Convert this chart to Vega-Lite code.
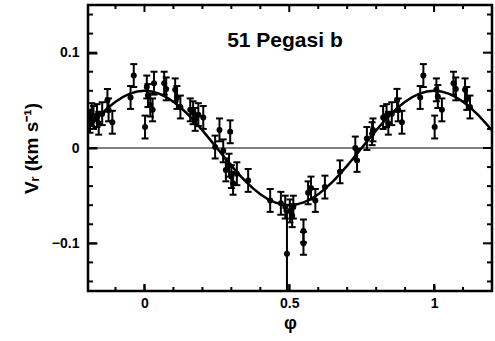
{
  "$schema": "https://vega.github.io/schema/vega-lite/v6.json",
  "width": 404,
  "height": 286,
  "autosize": "none",
  "padding": {"left": 88, "top": 5, "right": 3, "bottom": 50},
  "background": "white",
  "config": {
    "view": {"stroke": "black", "strokeWidth": 2.5, "fill": "transparent"},
    "font": "Liberation Sans",
    "axis": {"domain": false, "grid": false, "ticks": true, "tickColor": "#000000", "tickWidth": 2, "tickOpacity": 1, "zindex": 2}
  },
  "datasets": {
    "pts": [
      {"phi": -0.188, "v": 0.028, "err": 0.012},
      {"phi": -0.182, "v": 0.035, "err": 0.012},
      {"phi": -0.176, "v": 0.032, "err": 0.012},
      {"phi": -0.164, "v": 0.034, "err": 0.012},
      {"phi": -0.158, "v": 0.026, "err": 0.012},
      {"phi": -0.146, "v": 0.036, "err": 0.012},
      {"phi": -0.128, "v": 0.050, "err": 0.012},
      {"phi": -0.124, "v": 0.040, "err": 0.012},
      {"phi": -0.111, "v": 0.027, "err": 0.012},
      {"phi": -0.048, "v": 0.053, "err": 0.012},
      {"phi": -0.037, "v": 0.076, "err": 0.012},
      {"phi": 0.002, "v": 0.022, "err": 0.012},
      {"phi": 0.008, "v": 0.064, "err": 0.012},
      {"phi": 0.012, "v": 0.055, "err": 0.012},
      {"phi": 0.020, "v": 0.045, "err": 0.012},
      {"phi": 0.033, "v": 0.068, "err": 0.012},
      {"phi": 0.028, "v": 0.040, "err": 0.012},
      {"phi": 0.068, "v": 0.068, "err": 0.012},
      {"phi": 0.075, "v": 0.062, "err": 0.012},
      {"phi": 0.106, "v": 0.061, "err": 0.012},
      {"phi": 0.112, "v": 0.053, "err": 0.012},
      {"phi": 0.124, "v": 0.043, "err": 0.012},
      {"phi": 0.158, "v": 0.040, "err": 0.012},
      {"phi": 0.168, "v": 0.037, "err": 0.012},
      {"phi": 0.175, "v": 0.030, "err": 0.012},
      {"phi": 0.186, "v": 0.035, "err": 0.012},
      {"phi": 0.203, "v": 0.032, "err": 0.012},
      {"phi": 0.244, "v": 0.001, "err": 0.012},
      {"phi": 0.259, "v": 0.019, "err": 0.012},
      {"phi": 0.296, "v": 0.017, "err": 0.012},
      {"phi": 0.272, "v": -0.003, "err": 0.012},
      {"phi": 0.281, "v": -0.023, "err": 0.012},
      {"phi": 0.292, "v": -0.018, "err": 0.012},
      {"phi": 0.300, "v": -0.030, "err": 0.012},
      {"phi": 0.306, "v": -0.037, "err": 0.012},
      {"phi": 0.319, "v": -0.027, "err": 0.012},
      {"phi": 0.358, "v": -0.034, "err": 0.012},
      {"phi": 0.434, "v": -0.055, "err": 0.012},
      {"phi": 0.471, "v": -0.058, "err": 0.012},
      {"phi": 0.486, "v": -0.062, "err": 0.012},
      {"phi": 0.502, "v": -0.066, "err": 0.012},
      {"phi": 0.514, "v": -0.062, "err": 0.012},
      {"phi": 0.510, "v": -0.071, "err": 0.012},
      {"phi": 0.492, "v": -0.111, "err": 0.045},
      {"phi": 0.549, "v": -0.087, "err": 0.012},
      {"phi": 0.549, "v": -0.100, "err": 0.012},
      {"phi": 0.565, "v": -0.047, "err": 0.012},
      {"phi": 0.575, "v": -0.042, "err": 0.012},
      {"phi": 0.590, "v": -0.055, "err": 0.012},
      {"phi": 0.623, "v": -0.041, "err": 0.012},
      {"phi": 0.675, "v": -0.025, "err": 0.012},
      {"phi": 0.728, "v": 0.000, "err": 0.012},
      {"phi": 0.734, "v": -0.013, "err": 0.012},
      {"phi": 0.768, "v": 0.010, "err": 0.012},
      {"phi": 0.786, "v": 0.015, "err": 0.012},
      {"phi": 0.789, "v": 0.019, "err": 0.012},
      {"phi": 0.824, "v": 0.032, "err": 0.012},
      {"phi": 0.836, "v": 0.034, "err": 0.012},
      {"phi": 0.842, "v": 0.026, "err": 0.012},
      {"phi": 0.854, "v": 0.036, "err": 0.012},
      {"phi": 0.872, "v": 0.050, "err": 0.012},
      {"phi": 0.876, "v": 0.040, "err": 0.012},
      {"phi": 0.889, "v": 0.027, "err": 0.012},
      {"phi": 0.952, "v": 0.053, "err": 0.012},
      {"phi": 0.963, "v": 0.076, "err": 0.012},
      {"phi": 1.002, "v": 0.022, "err": 0.012},
      {"phi": 1.008, "v": 0.061, "err": 0.012},
      {"phi": 1.013, "v": 0.054, "err": 0.012},
      {"phi": 1.027, "v": 0.040, "err": 0.012},
      {"phi": 1.067, "v": 0.068, "err": 0.012},
      {"phi": 1.075, "v": 0.062, "err": 0.012},
      {"phi": 1.107, "v": 0.061, "err": 0.012},
      {"phi": 1.113, "v": 0.052, "err": 0.012},
      {"phi": 1.124, "v": 0.043, "err": 0.012}
    ],
    "curve": [
      {"phi": -0.2, "v": 0.0185},
      {"phi": -0.15, "v": 0.0353},
      {"phi": -0.1, "v": 0.0485},
      {"phi": -0.05, "v": 0.0571},
      {"phi": 0.0, "v": 0.06},
      {"phi": 0.05, "v": 0.0571},
      {"phi": 0.1, "v": 0.0485},
      {"phi": 0.15, "v": 0.0353},
      {"phi": 0.2, "v": 0.0185},
      {"phi": 0.25, "v": 0.0},
      {"phi": 0.3, "v": -0.0185},
      {"phi": 0.35, "v": -0.0353},
      {"phi": 0.4, "v": -0.0485},
      {"phi": 0.45, "v": -0.0571},
      {"phi": 0.5, "v": -0.06},
      {"phi": 0.55, "v": -0.0571},
      {"phi": 0.6, "v": -0.0485},
      {"phi": 0.65, "v": -0.0353},
      {"phi": 0.7, "v": -0.0185},
      {"phi": 0.75, "v": 0.0},
      {"phi": 0.8, "v": 0.0185},
      {"phi": 0.85, "v": 0.0353},
      {"phi": 0.9, "v": 0.0485},
      {"phi": 0.95, "v": 0.0571},
      {"phi": 1.0, "v": 0.06},
      {"phi": 1.05, "v": 0.0571},
      {"phi": 1.1, "v": 0.0485},
      {"phi": 1.15, "v": 0.0353},
      {"phi": 1.2, "v": 0.0185}
    ],
    "zero": [{"v": 0}],
    "label": [{"phi": 0.485, "v": 0.112, "text": "51 Pegasi b"}],
    "xmaj": [{"t": 0}, {"t": 0.5}, {"t": 1}],
    "xmin": [{"t": -0.1}, {"t": 0.1}, {"t": 0.2}, {"t": 0.3}, {"t": 0.4}, {"t": 0.6}, {"t": 0.7}, {"t": 0.8}, {"t": 0.9}, {"t": 1.1}],
    "ymaj": [{"t": -0.1}, {"t": 0}, {"t": 0.1}],
    "ymin": [{"t": -0.14}, {"t": -0.12}, {"t": -0.08}, {"t": -0.06}, {"t": -0.04}, {"t": -0.02}, {"t": 0.02}, {"t": 0.04}, {"t": 0.06}, {"t": 0.08}, {"t": 0.12}, {"t": 0.14}]
  },
  "resolve": {"axis": {"x": "independent", "y": "independent"}},
  "layer": [
    {
      "data": {"name": "zero"},
      "mark": {"type": "rule", "color": "black", "strokeWidth": 1.2},
      "encoding": {
        "y": {"field": "v", "type": "quantitative", "scale": {"domain": [-0.15, 0.15], "nice": false, "zero": false}, "axis": null}
      }
    },
    {
      "data": {"name": "curve"},
      "mark": {"type": "line", "color": "black", "strokeWidth": 2.5, "interpolate": "natural", "clip": true},
      "encoding": {
        "x": {
          "field": "phi", "type": "quantitative",
          "scale": {"domain": [-0.195, 1.2], "nice": false, "zero": false},
          "axis": {
            "orient": "bottom", "offset": -7, "tickSize": 7, "zindex": 2,
            "title": "φ", "titleFont": "Liberation Sans", "titleFontSize": 18, "titleFontWeight": "bold", "titleColor": "black", "titlePadding": 4,
            "values": [0, 0.5, 1], "format": "~g",
            "labelFont": "Liberation Sans", "labelFontSize": 14, "labelFontWeight": "bold", "labelColor": "black", "labelPadding": 5
          }
        },
        "y": {
          "field": "v", "type": "quantitative",
          "scale": {"domain": [-0.15, 0.15], "nice": false, "zero": false},
          "axis": {
            "orient": "left", "offset": -9, "tickSize": 9, "zindex": 2,
            "title": "Vᵣ (km s⁻¹)", "titleFont": "Liberation Sans", "titleFontSize": 19, "titleFontWeight": "bold", "titleColor": "black", "titlePadding": 10,
            "values": [-0.1, 0, 0.1], "format": "~g",
            "labelFont": "Liberation Sans", "labelFontSize": 14, "labelFontWeight": "bold", "labelColor": "black", "labelPadding": 9
          }
        }
      }
    },
    {
      "data": {"name": "pts"},
      "mark": {"type": "errorbar", "ticks": {"size": 7, "thickness": 2, "color": "black", "opacity": 1}, "rule": {"strokeWidth": 2, "color": "black", "opacity": 1}, "clip": true},
      "encoding": {
        "x": {"field": "phi", "type": "quantitative", "axis": null},
        "y": {"field": "v", "type": "quantitative", "axis": null},
        "yError": {"field": "err"}
      }
    },
    {
      "data": {"name": "pts"},
      "mark": {"type": "circle", "color": "black", "opacity": 1, "size": 36},
      "encoding": {
        "x": {"field": "phi", "type": "quantitative", "axis": null},
        "y": {"field": "v", "type": "quantitative", "axis": null}
      }
    },
    {
      "data": {"name": "label"},
      "mark": {"type": "text", "font": "Liberation Sans", "fontSize": 21, "fontWeight": "bold", "color": "black", "align": "center", "baseline": "middle"},
      "encoding": {
        "x": {"field": "phi", "type": "quantitative", "axis": null},
        "y": {"field": "v", "type": "quantitative", "axis": null},
        "text": {"field": "text"}
      }
    },
    {
      "data": {"name": "xmaj"},
      "mark": {"type": "tick", "orient": "vertical", "color": "black", "opacity": 1, "size": 14, "thickness": 2, "clip": true},
      "encoding": {
        "x": {"field": "t", "type": "quantitative", "axis": null},
        "y": {"datum": -0.15, "type": "quantitative", "axis": null}
      }
    },
    {
      "data": {"name": "xmaj"},
      "mark": {"type": "tick", "orient": "vertical", "color": "black", "opacity": 1, "size": 14, "thickness": 2, "clip": true},
      "encoding": {
        "x": {"field": "t", "type": "quantitative", "axis": null},
        "y": {"datum": 0.15, "type": "quantitative", "axis": null}
      }
    },
    {
      "data": {"name": "xmin"},
      "mark": {"type": "tick", "orient": "vertical", "color": "black", "opacity": 1, "size": 8, "thickness": 2, "clip": true},
      "encoding": {
        "x": {"field": "t", "type": "quantitative", "axis": null},
        "y": {"datum": -0.15, "type": "quantitative", "axis": null}
      }
    },
    {
      "data": {"name": "xmin"},
      "mark": {"type": "tick", "orient": "vertical", "color": "black", "opacity": 1, "size": 8, "thickness": 2, "clip": true},
      "encoding": {
        "x": {"field": "t", "type": "quantitative", "axis": null},
        "y": {"datum": 0.15, "type": "quantitative", "axis": null}
      }
    },
    {
      "data": {"name": "ymaj"},
      "mark": {"type": "tick", "orient": "horizontal", "color": "black", "opacity": 1, "size": 18, "thickness": 2, "clip": true},
      "encoding": {
        "y": {"field": "t", "type": "quantitative", "axis": null},
        "x": {"datum": -0.195, "type": "quantitative", "axis": null}
      }
    },
    {
      "data": {"name": "ymaj"},
      "mark": {"type": "tick", "orient": "horizontal", "color": "black", "opacity": 1, "size": 18, "thickness": 2, "clip": true},
      "encoding": {
        "y": {"field": "t", "type": "quantitative", "axis": null},
        "x": {"datum": 1.2, "type": "quantitative", "axis": null}
      }
    },
    {
      "data": {"name": "ymin"},
      "mark": {"type": "tick", "orient": "horizontal", "color": "black", "opacity": 1, "size": 10, "thickness": 2, "clip": true},
      "encoding": {
        "y": {"field": "t", "type": "quantitative", "axis": null},
        "x": {"datum": -0.195, "type": "quantitative", "axis": null}
      }
    },
    {
      "data": {"name": "ymin"},
      "mark": {"type": "tick", "orient": "horizontal", "color": "black", "opacity": 1, "size": 10, "thickness": 2, "clip": true},
      "encoding": {
        "y": {"field": "t", "type": "quantitative", "axis": null},
        "x": {"datum": 1.2, "type": "quantitative", "axis": null}
      }
    }
  ]
}
